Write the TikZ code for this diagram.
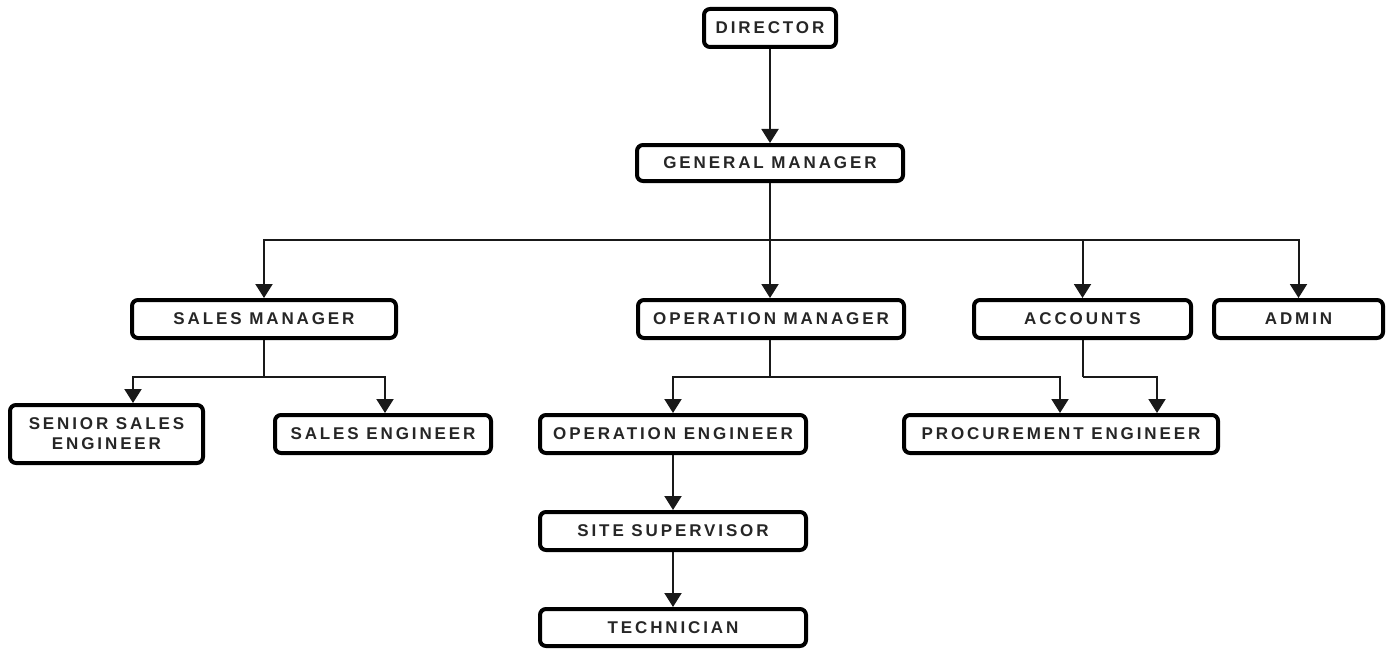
\documentclass[tikz,border=0pt]{standalone}
\usepackage{fontspec}
\newfontfamily\boxfont{Liberation Sans}[LetterSpace=17]
\usetikzlibrary{arrows.meta}
\begin{document}
\begin{tikzpicture}[x=1pt,y=-1pt,
  box/.style={draw=black,line width=4pt,rounded corners=6pt,fill=white,inner sep=0pt,
    minimum height=38pt,text=black!85,align=center,
    font=\boxfont\bfseries\fontsize{17}{20}\selectfont},
  arr/.style={draw=black!90,line width=2pt,-{Triangle[width=17pt,length=14pt]}},
  ln/.style={draw=black!90,line width=2pt}]
\useasboundingbox (0,0) rectangle (1394,650);
\fill[white] (0,0) rectangle (1394,650);

\node[box,minimum width=132pt] (dir) at (770,28) {DIRECTOR};
\node[box,minimum width=266pt,minimum height=36pt] (gm) at (770,163) {GENERAL MANAGER};
\node[box,minimum width=264pt] (sm) at (264,319) {SALES MANAGER};
\node[box,minimum width=266pt] (om) at (771,319) {OPERATION MANAGER};
\node[box,minimum width=217pt] (acc) at (1082.5,319) {ACCOUNTS};
\node[box,minimum width=169pt] (adm) at (1298.5,319) {ADMIN};
\node[box,minimum width=193pt,minimum height=58pt] (sse) at (106.5,434) {SENIOR SALES\\[0pt]ENGINEER};
\node[box,minimum width=216pt] (se) at (383,434) {SALES ENGINEER};
\node[box,minimum width=266pt] (oe) at (673,434) {OPERATION ENGINEER};
\node[box,minimum width=314pt] (pe) at (1061,434) {PROCUREMENT ENGINEER};
\node[box,minimum width=266pt] (ss) at (673,531) {SITE SUPERVISOR};
\node[box,minimum width=266pt,minimum height=37pt] (tech) at (673,627.5) {TECHNICIAN};

\coordinate (bus) at (770,240);
\coordinate (smj) at (264,377);
\coordinate (omj) at (770,377);
\coordinate (accj) at (1082.5,377);

\draw[arr] (dir.south) -- (gm.north);
\draw[ln] (gm.south) -- (bus);
\draw[arr] (bus) -| (sm.north);
\draw[arr] (bus) -- ([xshift=-1pt]om.north);
\draw[arr] (bus) -| (acc.north);
\draw[arr] (bus) -| (adm.north);

\draw[ln] (sm.south) -- (smj);
\draw[arr] (smj) -| ([xshift=26.5pt]sse.north);
\draw[arr] (smj) -| ([xshift=2pt]se.north);

\draw[ln] ([xshift=-1pt]om.south) -- (omj);
\draw[arr] (omj) -| (oe.north);
\draw[arr] (omj) -| ([xshift=-1pt]pe.north);

\draw[ln] (acc.south) -- (accj);
\draw[arr] (accj) -| ([xshift=96pt]pe.north);

\draw[arr] (oe.south) -- (ss.north);
\draw[arr] (ss.south) -- (tech.north);
\end{tikzpicture}
\end{document}
